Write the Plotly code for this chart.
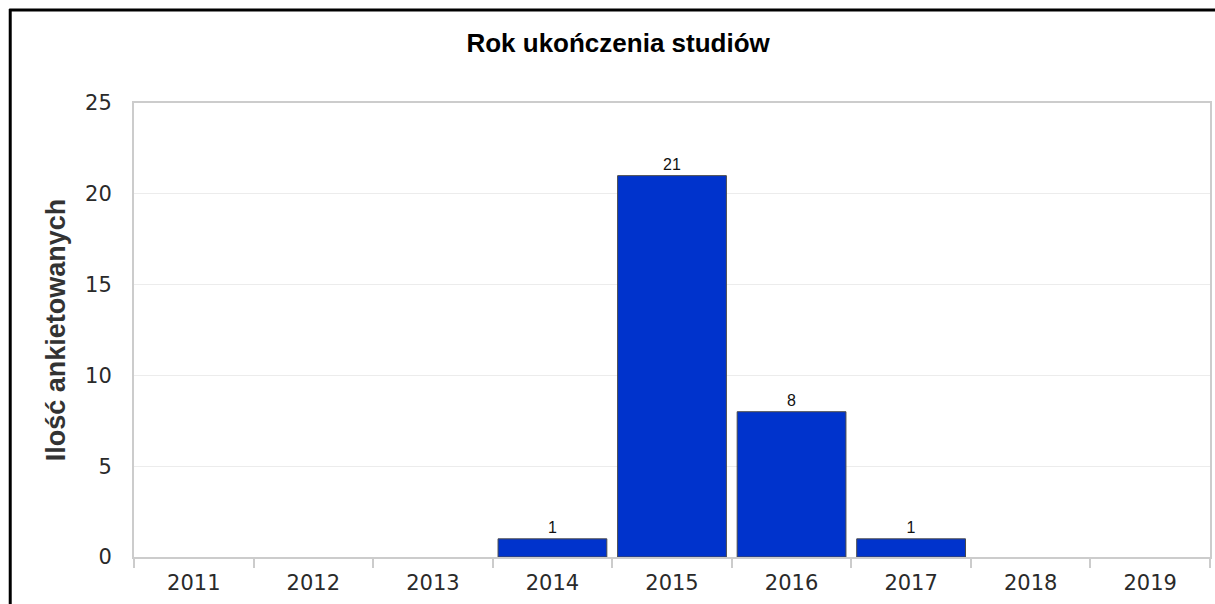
import plotly.graph_objects as go

years = ["2011", "2012", "2013", "2014", "2015", "2016", "2017", "2018", "2019"]
counts = [0, 0, 0, 1, 21, 8, 1, 0, 0]
y_ticks = [0, 5, 10, 15, 20, 25]
title_text = "Rok ukończenia studiów"
y_title = "Ilość ankietowanych"

W, H = 1215, 604
L, R, T, B = 134, 3, 103, 47
pw = W - L - R
ph = H - T - B

def px(x):
    return (x - L) / pw

def py(y):
    return (H - B - y) / ph

fig = go.Figure(
    go.Bar(
        x=years,
        y=counts,
        marker=dict(
            color="#0033cc",
            line=dict(color="#4a4a4a", width=[1 if v else 0 for v in counts]),
        ),
        text=[str(v) if v else "" for v in counts],
        textposition="outside",
        textfont=dict(family="Liberation Sans, Arial", size=16, color="#111"),
        cliponaxis=False,
    )
)

fig.update_layout(
    width=W,
    height=H,
    margin=dict(l=L, r=R, t=T, b=B, pad=0),
    paper_bgcolor="white",
    plot_bgcolor="white",
    bargap=0.09,
    showlegend=False,
    title=dict(
        text="<b>" + title_text + "</b>",
        x=px(619),
        xanchor="center",
        xref="paper",
        y=1 - 43 / H,
        yanchor="middle",
        font=dict(family="Liberation Sans, Arial", size=26, color="#000"),
    ),
    xaxis=dict(
        type="category",
        tickson="boundaries",
        ticks="outside",
        ticklen=9,
        tickcolor="#cccccc",
        tickwidth=2,
        showline=True,
        linecolor="#cccccc",
        linewidth=2,
        mirror=True,
        showgrid=False,
        ticklabelstandoff=6,
        tickfont=dict(family="DejaVu Sans", size=21, color="#2a2a2a"),
    ),
    yaxis=dict(
        range=[0, 25],
        tickvals=y_ticks,
        ticks="",
        showline=True,
        linecolor="#cccccc",
        linewidth=2,
        mirror=True,
        showgrid=True,
        gridcolor="#ececec",
        gridwidth=1,
        zeroline=False,
        ticklabelstandoff=16,
        tickfont=dict(family="DejaVu Sans", size=21, color="#2a2a2a"),
        title=dict(
            text="<b>" + y_title + "</b>",
            font=dict(family="Liberation Sans, Arial", size=27, color="#333"),
            standoff=12,
        ),
    ),
    shapes=[
        dict(type="line", xref="paper", yref="paper", x0=px(10), x1=px(10), y0=py(9), y1=py(620),
             line=dict(color="#000", width=3)),
        dict(type="line", xref="paper", yref="paper", x0=px(9), x1=px(1230), y0=py(10), y1=py(10),
             line=dict(color="#000", width=3)),
    ],
)

fig.write_html(
    "out.html",
    config={"displayModeBar": False},
    post_script="document.body.style.margin='0';document.body.style.overflow='hidden';",
)
